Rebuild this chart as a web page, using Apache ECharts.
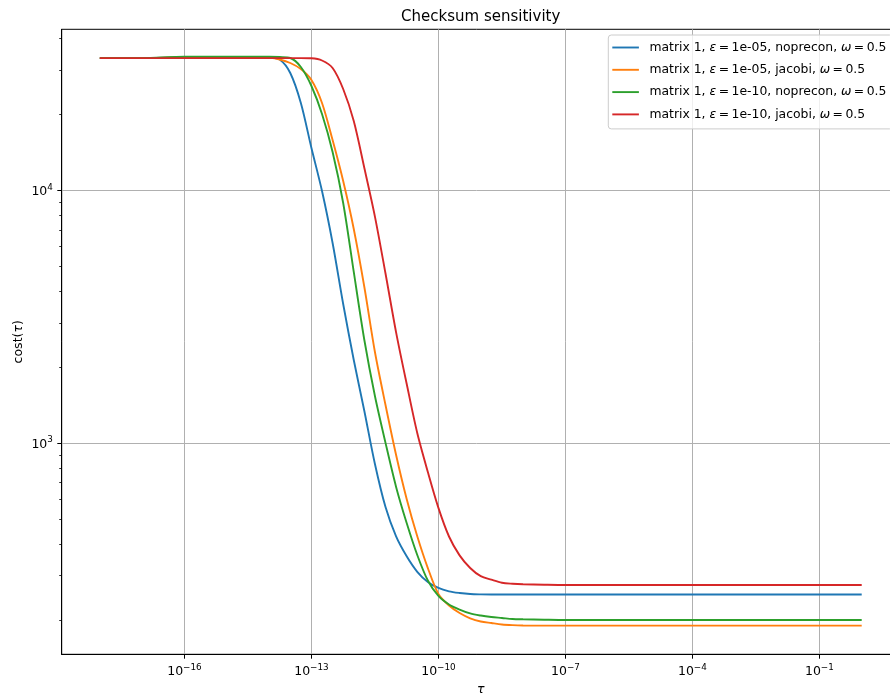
<!DOCTYPE html>
<html><head><meta charset="utf-8">
<script src="https://cdn.jsdelivr.net/npm/echarts@6/dist/echarts.min.js"></script>
<style>html,body{margin:0;padding:0;background:#fff}#c{width:890px;height:697px}</style>
</head><body><div id="c"></div>
<script>
// ---------- data ----------
const tau = [1e-18, 1e-17, 1e-16, 1e-15, 3.162e-15, 5.623e-15, 1e-14, 1.778e-14, 3.162e-14, 5.623e-14,
  1e-13, 1.778e-13, 3.162e-13, 5.623e-13, 1e-12, 1.778e-12, 3.162e-12, 5.623e-12, 1e-11, 1.778e-11,
  3.162e-11, 5.623e-11, 1e-10, 1.778e-10, 3.162e-10, 5.623e-10, 1e-9, 1.778e-9, 3.162e-9, 5.623e-9,
  1e-8, 3.162e-8, 1e-7, 1e-6, 1e-5, 1e-4, 1e-3, 1e-2, 1e-1, 1];
const costNopreconEps5 = [33500, 33500, 33800, 33800, 33800, 33800, 33650, 33070, 29240, 22250,
  14760, 9970, 6210, 3560, 2137, 1343, 828, 559, 428, 357,
  310, 282.5, 267.4, 259.4, 255.5, 253.1, 252.3, 252, 252, 252,
  252, 252, 252, 252, 252, 252, 252, 252, 252, 252];
const costJacobiEps5 = [33500, 33500, 33800, 33800, 33800, 33800, 33650, 33070, 32030, 30320,
  27430, 22250, 15870, 10925, 7054, 4157, 2298, 1418, 899, 602,
  428.5, 320.7, 253.2, 228, 212.9, 202.9, 197, 194.3, 191.8, 190.6,
  190, 189.7, 189.7, 189.7, 189.7, 189.7, 189.7, 189.7, 189.7, 189.7];
const costNopreconEps10 = [33500, 33500, 33900, 33900, 33900, 33900, 33900, 33810, 33520, 30880,
  25970, 20120, 14230, 8940, 4768, 2564, 1539, 1004, 672, 483.6,
  361.3, 286.3, 248.6, 230, 219.6, 212, 208, 205.3, 203.5, 201.6,
  201, 200.3, 199.8, 199.8, 199.8, 199.8, 199.8, 199.8, 199.8, 199.8];
const costJacobiEps10 = [33500, 33500, 33500, 33500, 33500, 33500, 33500, 33500, 33500, 33500,
  33430, 32770, 30610, 25270, 18870, 12300, 7900, 4700, 2750, 1720,
  1098, 769.8, 555, 427.6, 360, 320.9, 297.8, 288.4, 280.4, 277.9,
  276.6, 275.5, 274.8, 274.8, 274.8, 274.8, 274.8, 274.8, 274.8, 274.8];

const epsLabels = ['1e-05', '1e-05', '1e-10', '1e-10'];
const preconLabels = ['noprecon', 'jacobi', 'noprecon', 'jacobi'];
const omegaLabel = '0.5';
const xTickExponents = [-16, -13, -10, -7, -4, -1];
const yTickExponents = [3, 4];
const yMinorTickValues = [200, 300, 400, 500, 600, 700, 800, 900,
  2000, 3000, 4000, 5000, 6000, 7000, 8000, 9000, 20000, 30000, 40000];

// ---------- axis ranges ----------
const X_MIN = 1.2589e-19, X_MAX = 7.943;
const Y_MIN = 146.1, Y_MAX = 43550;

const FONT = 'DejaVu Sans';
const colors = ['#1f77b4', '#ff7f0e', '#2ca02c', '#d62728'];
const allCosts = [costNopreconEps5, costJacobiEps5, costNopreconEps10, costJacobiEps10];
const names = epsLabels.map((e, i) => 'matrix 1, ε=' + e + ', ' + preconLabels[i] + ', ω=' + omegaLabel);
const TS = '\u2009';
const legendRich = {};
names.forEach((n, i) => {
  legendRich[n] = 'matrix 1, {it|ε}' + TS + '=' + TS + epsLabels[i] + ', ' + preconLabels[i] + ', {it|ω}' + TS + '=' + TS + omegaLabel;
});

const RICH = {
  b: {fontFamily: FONT, fontSize: 12.5, lineHeight: 15.4, color: '#000', verticalAlign: 'bottom'},
  s: {fontFamily: FONT, fontSize: 8.8, lineHeight: 8.8, color: '#000', verticalAlign: 'top'}
};
function powLabel(v) {
  const e = Math.round(v);
  const s = e < 0 ? '\u2212' + (-e) : String(e);
  return '{b|10}{s|' + s + '}';
}

const chart = echarts.init(document.getElementById('c'), null, {renderer: 'canvas'});
const option = {
  animation: false,
  backgroundColor: '#fff',
  textStyle: {fontFamily: FONT},
  grid: {left: 61.7, top: 29.3, right: -9.8, bottom: 42.7, show: true, borderColor: '#000', borderWidth: 1,
    backgroundColor: 'transparent', containLabel: false, outerBoundsMode: 'none'},
  legend: {
    orient: 'vertical', left: 608.3, top: 35,
    padding: [5.5, 6, 7.5, 4],
    itemWidth: 26.6, itemHeight: 1.9, itemGap: 8.3,
    icon: 'rect',
    backgroundColor: 'rgba(255,255,255,0.8)', borderColor: '#cccccc', borderWidth: 1, borderRadius: 3,
    selectedMode: false,
    data: names,
    formatter: n => legendRich[n],
    textStyle: {fontFamily: FONT, fontSize: 12.4, lineHeight: 14, color: '#000', padding: [0, 0, 0, 5.5],
      rich: {it: {fontFamily: FONT, fontSize: 12.4, fontStyle: 'italic', color: '#000'}}}
  },
  xAxis: [
    {type: 'value', position: 'bottom', min: Math.log10(X_MIN), max: Math.log10(X_MAX),
      axisLine: {show: true, onZero: false, lineStyle: {color: '#000', width: 1}},
      axisTick: {show: true, length: 4.4, customValues: xTickExponents, lineStyle: {color: '#000', width: 1}},
      axisLabel: {show: true, customValues: xTickExponents, margin: 8.8, formatter: powLabel, rich: RICH, color: '#000'},
      splitLine: {show: true, lineStyle: {color: '#b0b0b0', width: 1}}},
    {type: 'log', logBase: 10, min: X_MIN, max: X_MAX, show: false, position: 'bottom',
      axisLine: {onZero: false}, splitLine: {show: false}}
  ],
  yAxis: [
    {type: 'value', position: 'left', min: Math.log10(Y_MIN), max: Math.log10(Y_MAX),
      axisLine: {show: true, onZero: false, lineStyle: {color: '#000', width: 1}},
      axisTick: {show: true, length: 4.4, customValues: yTickExponents, lineStyle: {color: '#000', width: 1}},
      axisLabel: {show: true, customValues: yTickExponents, margin: 8.8, formatter: powLabel, rich: RICH, color: '#000'},
      splitLine: {show: true, lineStyle: {color: '#b0b0b0', width: 1}}},
    {type: 'value', position: 'left', min: Math.log10(Y_MIN), max: Math.log10(Y_MAX),
      axisLine: {show: false, onZero: false},
      axisTick: {show: true, length: 2.5, customValues: yMinorTickValues.map(v => Math.log10(v)), lineStyle: {color: '#000', width: 0.8}},
      axisLabel: {show: false}, splitLine: {show: false}},
    {type: 'log', logBase: 10, min: Y_MIN, max: Y_MAX, show: false, position: 'left',
      axisLine: {onZero: false}, splitLine: {show: false}}
  ],
  graphic: [
    {type: 'text', x: 480.7, y: 17.3, silent: true,
      style: {text: 'Checksum sensitivity', fontFamily: FONT, fontSize: 15, fill: '#000', align: 'center', verticalAlign: 'middle'}},
    {type: 'text', x: 480.7, y: 689.5, silent: true,
      style: {text: 'τ', fontFamily: FONT, fontSize: 12.5, fontStyle: 'italic', fill: '#000', align: 'center', verticalAlign: 'middle'}},
    {type: 'text', x: 18.6, y: 341.8, rotation: Math.PI / 2, silent: true,
      style: {text: '{n|cost(}{i|τ}{n|)}', align: 'center', verticalAlign: 'middle', fill: '#000',
        rich: {n: {fontFamily: FONT, fontSize: 12.5, fill: '#000', color: '#000'},
               i: {fontFamily: FONT, fontSize: 12.5, fontStyle: 'italic', fill: '#000', color: '#000'}}}}
  ],
  series: allCosts.map((cost, i) => ({
    name: names[i], type: 'line', xAxisIndex: 1, yAxisIndex: 2,
    showSymbol: false, symbol: 'none', smooth: 0.3,
    lineStyle: {color: colors[i], width: 1.9}, itemStyle: {color: colors[i]},
    emphasis: {disabled: true},
    data: tau.map((t, j) => [t, cost[j]])
  }))
};
chart.setOption(option);
</script></body></html>
